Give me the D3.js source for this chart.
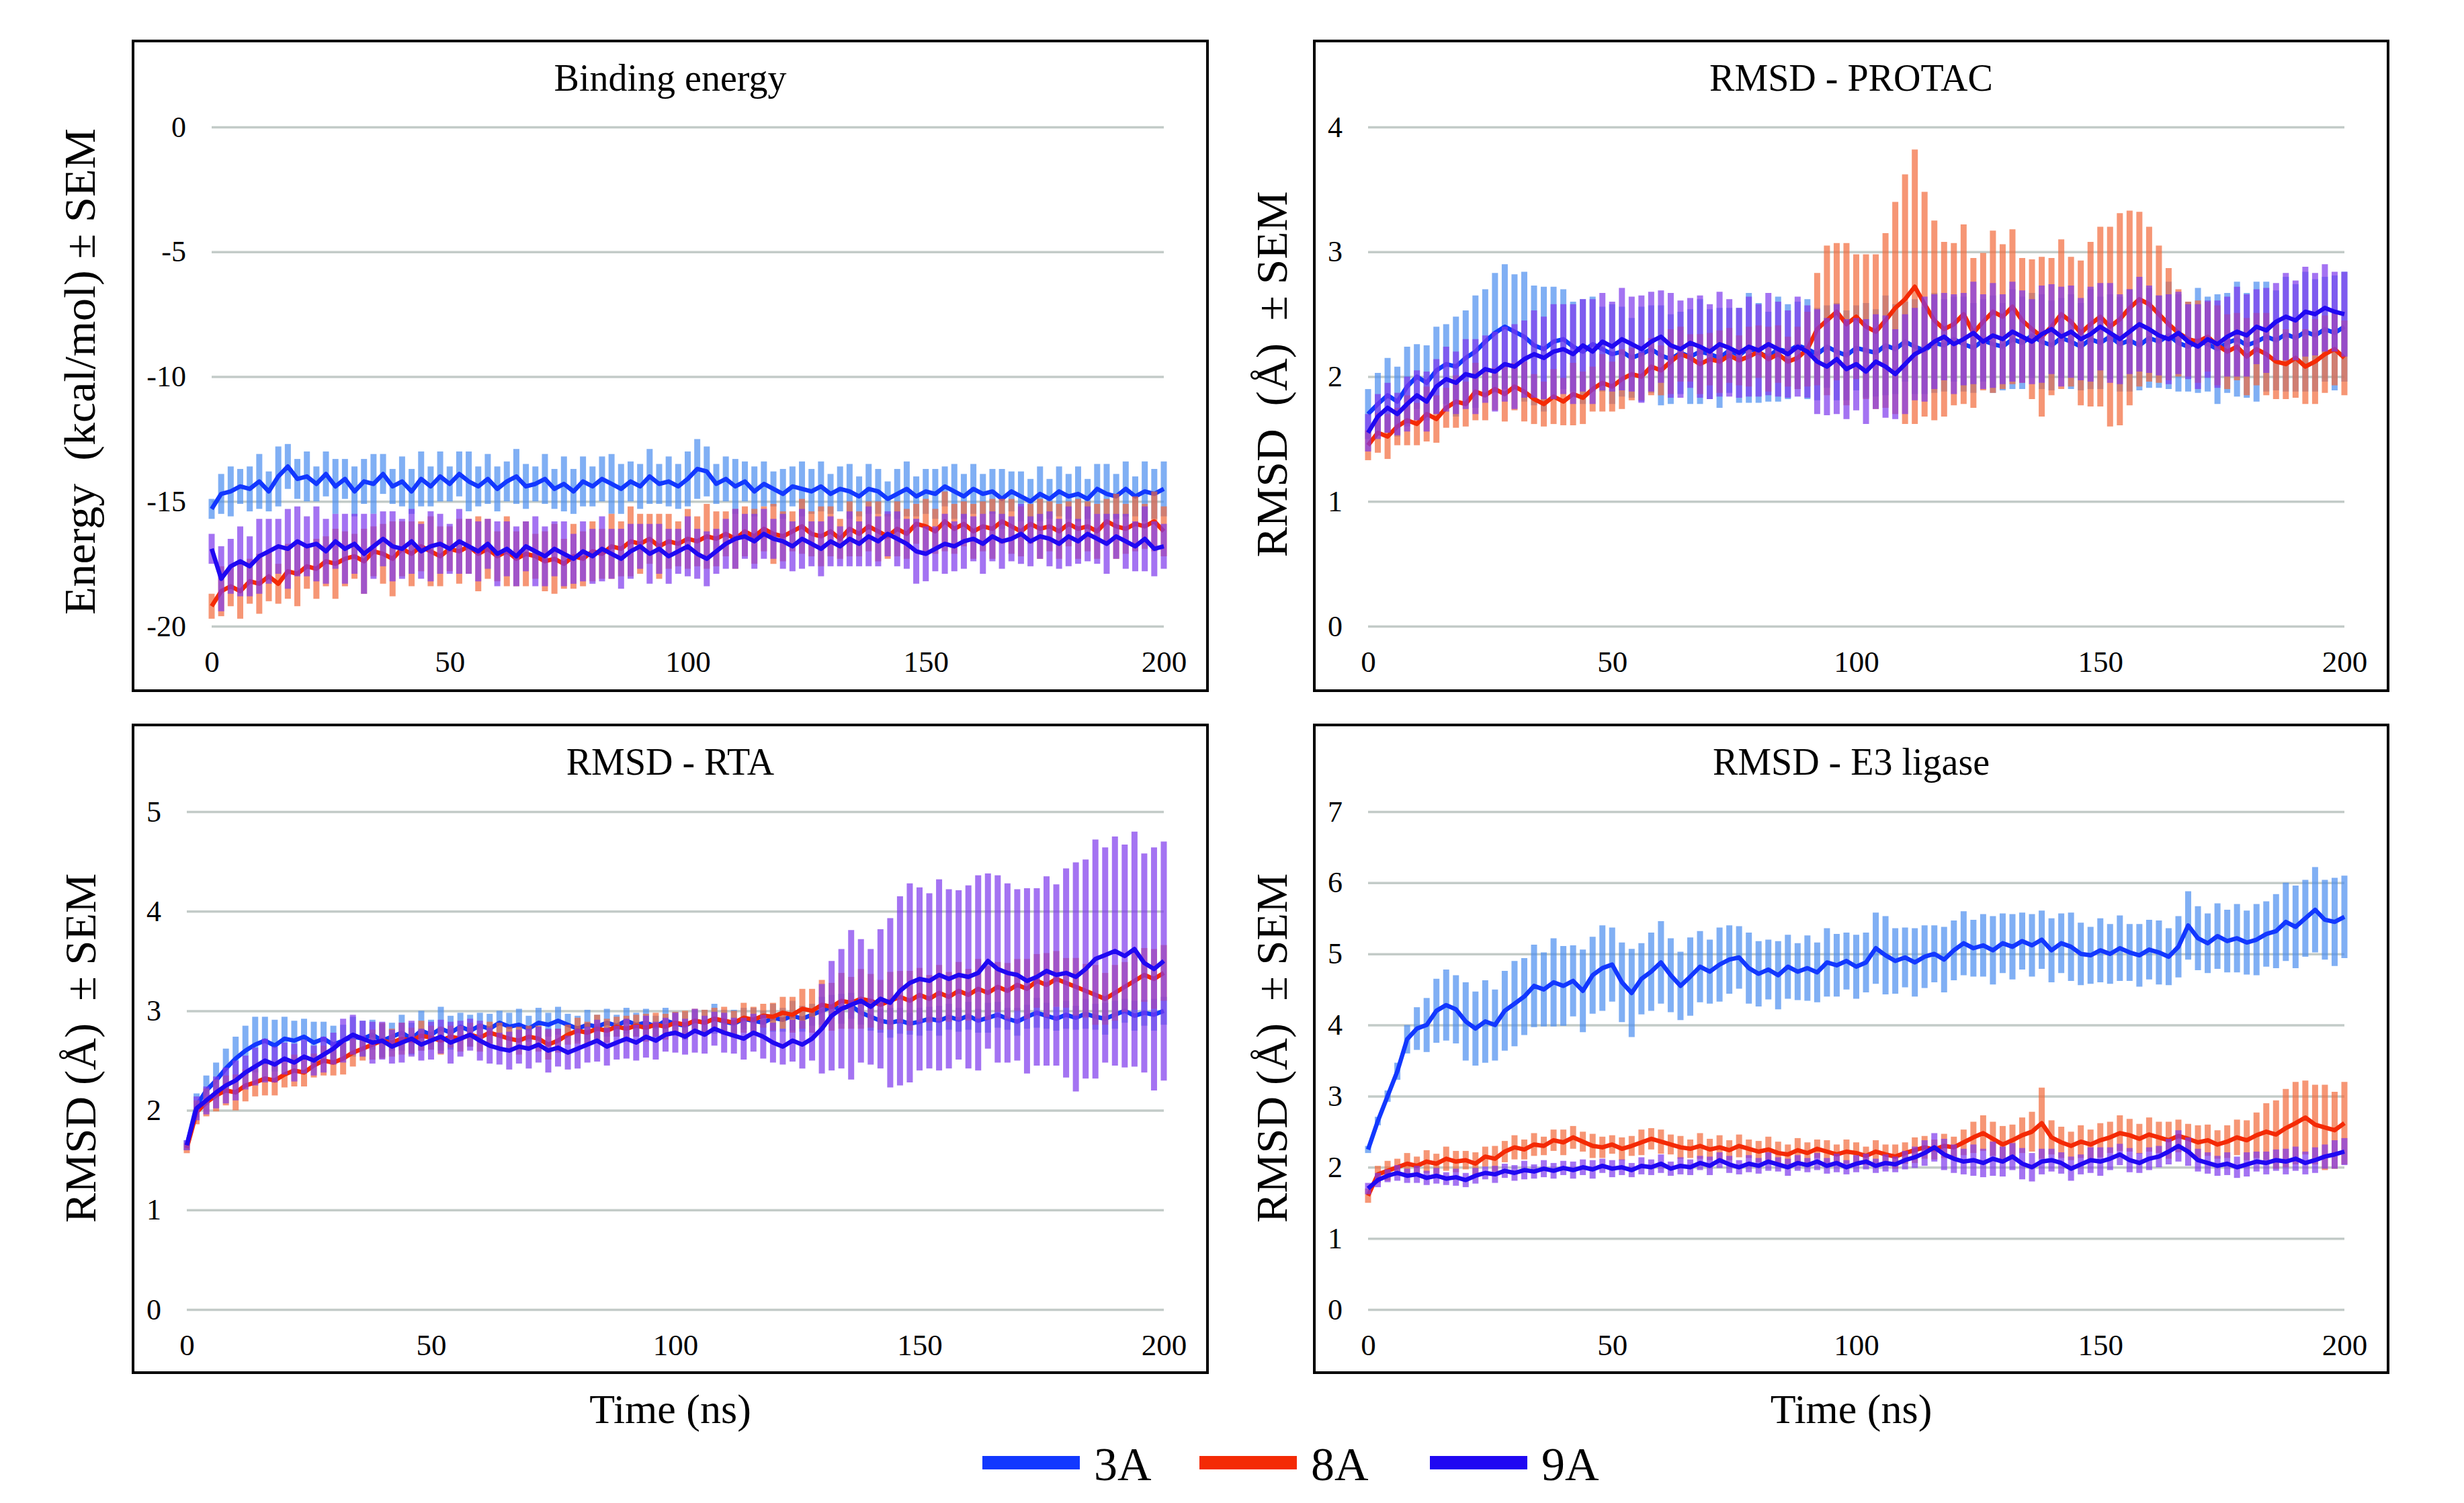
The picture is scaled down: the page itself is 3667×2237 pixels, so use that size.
<!DOCTYPE html>
<html>
<head>
<meta charset="utf-8">
<script src="https://cdn.jsdelivr.net/npm/d3@7"></script>
<style>
  body { margin: 0; background: #fff; }
  text { font-family: "Liberation Serif", "Times New Roman", serif; fill: #000; }
</style>
</head>
<body>
<svg id="chart" width="3667" height="2237"></svg>
<script>
// time axis (ns), one sample every 2 ns
var time = [0,2,4,6,8,10,12,14,16,18,20,22,24,26,28,30,32,34,36,38,40,42,44,46,48,50,52,54,56,58,
  60,62,64,66,68,70,72,74,76,78,80,82,84,86,88,90,92,94,96,98,100,102,104,106,108,110,112,114,116,118,
  120,122,124,126,128,130,132,134,136,138,140,142,144,146,148,150,152,154,156,158,160,162,164,166,168,170,
  172,174,176,178,180,182,184,186,188,190,192,194,196,198,200];

var seriesNames = ["3A", "8A", "9A"];
var xTicks = [0, 50, 100, 150, 200];

// ---- Binding energy (kcal/mol)
var energy3A = [-15.3,-14.7,-14.6,-14.4,-14.5,-14.2,-14.6,-14.0,-13.6,-14.1,
  -14.0,-14.3,-13.9,-14.4,-14.1,-14.6,-14.2,-14.3,-13.9,-14.4,
  -14.2,-14.6,-14.1,-14.4,-14.0,-14.3,-13.9,-14.2,-14.4,-14.1,
  -14.5,-14.2,-14.0,-14.4,-14.3,-14.1,-14.5,-14.3,-14.6,-14.2,
  -14.4,-14.1,-14.3,-14.5,-14.2,-14.4,-14.0,-14.3,-14.2,-14.4,
  -14.1,-13.7,-13.8,-14.3,-14.1,-14.4,-14.2,-14.6,-14.3,-14.5,
  -14.7,-14.4,-14.5,-14.6,-14.4,-14.7,-14.5,-14.6,-14.8,-14.5,
  -14.6,-14.9,-14.7,-14.5,-14.8,-14.6,-14.7,-14.4,-14.6,-14.8,
  -14.5,-14.7,-14.6,-14.9,-14.6,-14.8,-15.0,-14.7,-14.9,-14.6,
  -14.8,-14.7,-14.9,-14.5,-14.7,-14.8,-14.5,-14.8,-14.6,-14.7,
  -14.5];
var energy8A = [-19.2,-18.6,-18.4,-18.6,-18.2,-18.3,-18.0,-18.3,-17.8,-17.9,
  -17.6,-17.7,-17.4,-17.5,-17.3,-17.2,-17.4,-17.0,-17.1,-17.3,
  -16.9,-17.1,-16.8,-17.0,-17.2,-16.9,-17.0,-16.8,-17.1,-16.9,
  -17.2,-17.0,-17.3,-17.1,-17.2,-17.4,-17.3,-17.5,-17.2,-17.3,
  -17.0,-17.1,-16.8,-16.9,-16.6,-16.7,-16.5,-16.8,-16.6,-16.7,
  -16.5,-16.6,-16.4,-16.5,-16.3,-16.5,-16.2,-16.4,-16.1,-16.3,
  -16.4,-16.2,-16.0,-16.3,-16.4,-16.2,-16.5,-16.1,-16.3,-16.0,
  -16.2,-16.4,-16.1,-16.3,-15.9,-16.0,-16.2,-15.8,-16.1,-15.9,
  -16.2,-16.0,-16.1,-15.8,-16.0,-16.2,-15.9,-16.1,-16.0,-16.2,
  -15.9,-16.1,-16.0,-16.2,-15.8,-16.0,-16.1,-15.9,-16.0,-15.8,
  -16.2];
var energy9A = [-16.9,-18.1,-17.6,-17.4,-17.6,-17.2,-17.0,-16.8,-16.9,-16.6,
  -16.8,-16.7,-17.0,-16.6,-16.9,-16.7,-17.1,-16.8,-16.5,-16.8,
  -16.9,-16.6,-17.0,-16.8,-16.7,-16.9,-16.6,-16.8,-17.0,-16.7,
  -17.1,-16.9,-17.2,-16.8,-17.0,-17.2,-16.9,-17.1,-17.3,-17.0,
  -17.2,-16.9,-17.1,-17.3,-17.0,-16.8,-17.1,-16.9,-17.2,-17.0,
  -16.8,-17.1,-17.3,-17.0,-16.7,-16.5,-16.4,-16.6,-16.3,-16.5,
  -16.6,-16.8,-16.5,-16.7,-16.9,-16.6,-16.8,-16.5,-16.7,-16.4,
  -16.6,-16.3,-16.5,-16.7,-17.0,-17.1,-16.9,-16.7,-16.8,-16.6,
  -16.5,-16.7,-16.4,-16.6,-16.5,-16.3,-16.6,-16.4,-16.5,-16.7,
  -16.4,-16.6,-16.3,-16.5,-16.7,-16.4,-16.6,-16.8,-16.5,-16.9,
  -16.8];
var energy3Asem = [0.4,0.8,1.0,0.7,0.9,1.1,0.8,1.2,0.9,0.8,
  1.0,0.7,0.9,1.1,0.8,1.0,0.9,1.2,0.8,0.7,
  1.0,0.9,1.1,0.8,1.0,0.7,0.9,1.2,0.8,1.0,
  0.9,0.8,1.1,0.9,0.7,1.0,0.8,1.1,0.9,1.0,
  0.8,0.9,1.2,1.0,0.8,0.9,1.1,0.8,1.0,0.9,
  1.1,1.2,1.0,0.8,0.9,1.1,0.8,1.0,0.9,0.7,
  1.0,0.8,1.1,0.9,1.0,0.8,0.9,1.1,0.8,1.0,
  0.9,0.7,1.0,1.1,0.8,0.9,1.0,0.8,1.1,0.9,
  1.0,0.8,0.9,1.2,0.8,1.0,0.9,1.1,0.8,1.0,
  0.9,1.1,0.8,1.0,1.2,0.9,1.1,0.8,1.2,1.0,
  1.1];
var energy8Asem = [0.5,1.0,0.8,1.1,0.9,1.2,1.0,0.8,1.1,1.3,
  0.9,1.2,1.0,1.4,1.1,0.9,1.3,1.0,1.2,1.5,
  1.1,1.3,1.0,1.4,1.2,0.9,1.3,1.1,1.5,1.2,
  1.0,1.4,1.1,1.3,0.9,1.2,1.4,1.0,1.3,1.1,
  1.2,1.0,1.3,1.1,1.4,1.2,1.0,1.3,1.1,0.9,
  1.2,1.0,1.3,1.1,0.9,1.2,1.0,1.1,0.9,1.2,
  1.0,0.8,1.1,0.9,1.2,1.0,0.8,1.1,0.9,1.0,
  1.2,0.9,1.1,1.0,0.8,1.1,0.9,1.2,1.0,0.9,
  1.1,1.0,1.2,0.9,1.1,1.0,0.8,1.2,1.0,1.1,
  0.9,1.2,1.0,1.1,0.9,1.3,1.0,1.1,0.9,1.2,
  1.0];
var energy9Asem = [0.6,1.3,1.1,1.4,1.2,1.5,1.3,1.1,1.6,1.4,
  1.2,1.5,1.3,1.1,1.4,1.2,1.6,1.3,1.1,1.4,
  1.2,1.3,1.1,1.4,1.2,1.0,1.3,1.1,1.2,1.0,
  1.3,1.1,1.2,1.0,1.4,1.2,1.1,1.3,1.0,1.2,
  1.1,1.3,1.0,1.2,1.1,0.9,1.2,1.0,1.1,0.9,
  1.2,1.0,1.1,0.9,1.0,1.2,0.9,1.1,1.0,0.8,
  1.1,1.0,1.2,0.9,1.1,1.0,0.8,1.1,0.9,1.2,
  1.0,0.9,1.1,1.0,1.3,1.1,0.9,1.2,1.0,1.1,
  0.9,1.2,1.0,1.1,0.9,1.2,1.0,0.9,1.1,1.0,
  1.2,0.9,1.1,1.0,1.2,0.9,1.1,1.0,1.3,1.1,
  0.9];

// ---- RMSD PROTAC (Å)
var protac3A = [1.70,1.78,1.85,1.80,1.92,2.00,1.95,2.05,2.10,2.08,
  2.15,2.20,2.28,2.35,2.40,2.36,2.32,2.25,2.22,2.28,
  2.30,2.24,2.20,2.26,2.22,2.18,2.20,2.15,2.18,2.22,
  2.17,2.14,2.19,2.16,2.20,2.18,2.15,2.21,2.17,2.23,
  2.19,2.16,2.22,2.20,2.25,2.22,2.18,2.24,2.20,2.17,
  2.23,2.21,2.19,2.25,2.22,2.28,2.24,2.21,2.27,2.25,
  2.30,2.26,2.23,2.29,2.26,2.24,2.30,2.27,2.33,2.28,
  2.25,2.31,2.28,2.24,2.30,2.27,2.32,2.26,2.29,2.25,
  2.31,2.28,2.33,2.27,2.24,2.29,2.26,2.22,2.27,2.30,
  2.25,2.28,2.32,2.29,2.34,2.31,2.36,2.33,2.38,2.35,
  2.40];
var protac8A = [1.45,1.55,1.52,1.60,1.65,1.62,1.70,1.66,1.75,1.80,
  1.78,1.88,1.85,1.90,1.86,1.92,1.88,1.82,1.78,1.84,
  1.80,1.86,1.83,1.90,1.95,1.92,1.98,2.02,2.00,2.08,
  2.05,2.12,2.18,2.15,2.10,2.14,2.12,2.17,2.13,2.16,
  2.20,2.14,2.18,2.12,2.15,2.22,2.38,2.45,2.52,2.42,
  2.48,2.40,2.36,2.45,2.55,2.62,2.72,2.58,2.45,2.38,
  2.42,2.50,2.35,2.44,2.52,2.48,2.56,2.45,2.38,2.32,
  2.40,2.50,2.44,2.35,2.42,2.48,2.40,2.46,2.55,2.62,
  2.58,2.50,2.42,2.35,2.30,2.28,2.32,2.25,2.20,2.24,
  2.16,2.22,2.18,2.12,2.10,2.15,2.08,2.12,2.18,2.22,
  2.15];
var protac9A = [1.55,1.68,1.75,1.70,1.78,1.85,1.80,1.92,1.98,1.95,
  2.02,2.00,2.06,2.04,2.10,2.08,2.14,2.18,2.15,2.20,
  2.22,2.18,2.25,2.20,2.28,2.24,2.30,2.26,2.22,2.28,
  2.32,2.25,2.22,2.27,2.24,2.20,2.26,2.23,2.19,2.24,
  2.21,2.26,2.22,2.18,2.24,2.20,2.12,2.08,2.14,2.06,
  2.10,2.04,2.12,2.08,2.02,2.10,2.18,2.22,2.28,2.32,
  2.26,2.30,2.35,2.28,2.33,2.30,2.36,2.32,2.28,2.34,
  2.38,2.32,2.36,2.30,2.34,2.40,2.35,2.30,2.36,2.42,
  2.38,2.33,2.30,2.35,2.28,2.24,2.30,2.26,2.32,2.36,
  2.33,2.40,2.37,2.44,2.48,2.45,2.52,2.50,2.55,2.52,
  2.50];
var protac3Asem = [0.20,0.25,0.30,0.28,0.32,0.26,0.30,0.35,0.32,0.40,
  0.38,0.45,0.42,0.48,0.50,0.46,0.52,0.48,0.50,0.44,
  0.40,0.36,0.42,0.38,0.34,0.40,0.36,0.32,0.38,0.35,
  0.40,0.36,0.33,0.38,0.42,0.36,0.40,0.34,0.38,0.44,
  0.40,0.36,0.42,0.38,0.35,0.40,0.37,0.33,0.39,0.36,
  0.34,0.38,0.35,0.40,0.36,0.32,0.38,0.35,0.40,0.37,
  0.34,0.38,0.36,0.33,0.39,0.35,0.40,0.37,0.34,0.38,
  0.36,0.32,0.38,0.35,0.40,0.37,0.34,0.38,0.41,0.36,
  0.40,0.37,0.43,0.39,0.36,0.42,0.38,0.44,0.40,0.46,
  0.42,0.48,0.44,0.40,0.46,0.43,0.48,0.45,0.42,0.46,
  0.44];
var protac8Asem = [0.12,0.16,0.18,0.15,0.20,0.17,0.22,0.19,0.16,0.21,
  0.18,0.23,0.20,0.17,0.22,0.19,0.24,0.20,0.18,0.22,
  0.19,0.25,0.21,0.18,0.23,0.20,0.24,0.21,0.19,0.23,
  0.20,0.26,0.22,0.19,0.24,0.21,0.25,0.22,0.20,0.24,
  0.21,0.26,0.23,0.20,0.25,0.30,0.45,0.60,0.55,0.65,
  0.50,0.58,0.62,0.70,0.85,1.00,1.10,0.90,0.80,0.70,
  0.65,0.72,0.60,0.55,0.65,0.58,0.62,0.50,0.56,0.64,
  0.55,0.60,0.52,0.58,0.66,0.72,0.80,0.85,0.78,0.70,
  0.62,0.55,0.45,0.35,0.30,0.33,0.28,0.32,0.30,0.27,
  0.31,0.29,0.33,0.30,0.28,0.32,0.30,0.34,0.31,0.29,
  0.30];
var protac9Asem = [0.15,0.18,0.20,0.17,0.22,0.20,0.24,0.22,0.26,0.25,
  0.28,0.30,0.27,0.32,0.30,0.34,0.31,0.35,0.33,0.38,
  0.36,0.40,0.37,0.42,0.39,0.36,0.41,0.38,0.43,0.40,
  0.37,0.42,0.39,0.36,0.41,0.38,0.42,0.39,0.36,0.40,
  0.37,0.41,0.38,0.35,0.40,0.37,0.42,0.39,0.44,0.40,
  0.37,0.42,0.38,0.41,0.36,0.40,0.37,0.42,0.38,0.35,
  0.40,0.37,0.41,0.38,0.42,0.36,0.40,0.37,0.34,0.39,
  0.36,0.40,0.37,0.33,0.38,0.35,0.40,0.36,0.34,0.38,
  0.35,0.32,0.36,0.33,0.30,0.34,0.31,0.35,0.32,0.36,
  0.33,0.30,0.34,0.31,0.35,0.32,0.36,0.33,0.35,0.32,
  0.34];

// ---- RMSD RTA (Å)
var rta3A = [1.65,2.05,2.20,2.30,2.42,2.52,2.60,2.66,2.70,2.65,
  2.72,2.70,2.74,2.68,2.72,2.66,2.70,2.74,2.72,2.76,
  2.70,2.74,2.78,2.72,2.80,2.76,2.82,2.78,2.84,2.80,
  2.85,2.82,2.88,2.84,2.86,2.82,2.88,2.86,2.90,2.86,
  2.82,2.86,2.84,2.88,2.85,2.90,2.86,2.88,2.84,2.90,
  2.87,2.85,2.90,2.88,2.92,2.89,2.87,2.92,2.90,2.88,
  2.93,2.91,2.95,2.92,2.96,3.00,3.04,3.02,3.05,2.98,
  2.94,2.90,2.88,2.90,2.87,2.89,2.92,2.90,2.94,2.91,
  2.95,2.90,2.93,2.96,2.92,2.89,2.94,2.98,2.95,2.92,
  2.96,2.93,2.97,2.94,2.92,2.96,3.00,2.95,2.98,2.96,
  3.00];
var rta8A = [1.62,1.98,2.08,2.15,2.20,2.18,2.25,2.28,2.32,2.30,
  2.36,2.40,2.38,2.45,2.50,2.48,2.52,2.58,2.62,2.66,
  2.70,2.68,2.72,2.70,2.75,2.73,2.70,2.74,2.72,2.76,
  2.73,2.78,2.75,2.72,2.70,2.74,2.72,2.66,2.70,2.76,
  2.80,2.78,2.82,2.80,2.84,2.82,2.85,2.83,2.86,2.84,
  2.88,2.86,2.90,2.88,2.92,2.90,2.88,2.93,2.91,2.95,
  2.94,2.98,2.96,3.02,3.00,3.06,3.04,3.10,3.08,3.12,
  3.10,3.06,3.10,3.14,3.10,3.16,3.12,3.18,3.14,3.20,
  3.16,3.22,3.18,3.24,3.20,3.26,3.22,3.30,3.26,3.32,
  3.28,3.24,3.20,3.16,3.12,3.18,3.24,3.30,3.36,3.32,
  3.38];
var rta9A = [1.65,2.02,2.10,2.18,2.25,2.30,2.38,2.44,2.50,2.46,
  2.52,2.48,2.54,2.50,2.56,2.62,2.70,2.76,2.72,2.68,
  2.70,2.64,2.68,2.72,2.66,2.70,2.74,2.68,2.72,2.76,
  2.70,2.65,2.62,2.60,2.64,2.62,2.66,2.60,2.63,2.58,
  2.62,2.66,2.70,2.64,2.68,2.72,2.68,2.74,2.70,2.76,
  2.78,2.74,2.80,2.76,2.82,2.78,2.75,2.72,2.78,2.74,
  2.68,2.64,2.70,2.66,2.72,2.82,2.95,3.02,3.06,3.10,
  3.04,3.12,3.08,3.20,3.28,3.32,3.30,3.36,3.32,3.36,
  3.34,3.38,3.50,3.42,3.38,3.36,3.30,3.34,3.40,3.36,
  3.38,3.34,3.42,3.52,3.56,3.60,3.55,3.62,3.48,3.42,
  3.50];
var rta3Asem = [0.05,0.12,0.15,0.18,0.20,0.22,0.25,0.28,0.24,0.26,
  0.22,0.20,0.18,0.21,0.17,0.19,0.16,0.20,0.18,0.15,
  0.17,0.14,0.18,0.16,0.20,0.15,0.22,0.17,0.14,0.16,
  0.13,0.15,0.12,0.14,0.16,0.13,0.15,0.12,0.14,0.11,
  0.13,0.15,0.12,0.14,0.11,0.13,0.12,0.14,0.11,0.13,
  0.12,0.14,0.11,0.13,0.15,0.12,0.14,0.11,0.13,0.12,
  0.14,0.12,0.15,0.13,0.11,0.14,0.12,0.15,0.13,0.12,
  0.14,0.12,0.15,0.13,0.11,0.14,0.12,0.15,0.13,0.12,
  0.14,0.12,0.15,0.13,0.11,0.14,0.12,0.15,0.13,0.12,
  0.14,0.12,0.15,0.13,0.16,0.14,0.12,0.15,0.13,0.16,
  0.14];
var rta8Asem = [0.05,0.12,0.14,0.16,0.15,0.18,0.16,0.14,0.17,0.15,
  0.13,0.16,0.14,0.12,0.15,0.13,0.16,0.14,0.12,0.15,
  0.18,0.14,0.16,0.13,0.15,0.12,0.14,0.11,0.13,0.12,
  0.14,0.11,0.13,0.12,0.14,0.11,0.13,0.15,0.12,0.10,
  0.13,0.11,0.14,0.12,0.10,0.13,0.11,0.14,0.12,0.13,
  0.11,0.14,0.12,0.13,0.11,0.14,0.12,0.15,0.13,0.12,
  0.14,0.16,0.18,0.20,0.22,0.25,0.24,0.28,0.26,0.30,
  0.27,0.25,0.29,0.26,0.30,0.27,0.24,0.28,0.25,0.29,
  0.26,0.30,0.27,0.25,0.28,0.26,0.30,0.27,0.32,0.28,
  0.25,0.29,0.27,0.30,0.26,0.28,0.25,0.29,0.27,0.30,
  0.28];
var rta9Asem = [0.05,0.12,0.14,0.16,0.18,0.20,0.17,0.19,0.22,0.18,
  0.16,0.19,0.17,0.15,0.18,0.16,0.22,0.20,0.18,0.21,
  0.19,0.17,0.20,0.18,0.16,0.19,0.17,0.21,0.18,0.16,
  0.20,0.18,0.16,0.19,0.17,0.20,0.18,0.22,0.19,0.17,
  0.20,0.18,0.21,0.19,0.17,0.20,0.18,0.21,0.19,0.17,
  0.20,0.18,0.22,0.19,0.17,0.20,0.18,0.21,0.19,0.22,
  0.20,0.18,0.21,0.24,0.22,0.45,0.55,0.60,0.75,0.62,
  0.58,0.70,0.85,0.95,1.00,0.92,0.88,0.96,0.90,0.85,
  0.92,0.98,0.88,0.94,0.90,0.86,0.93,0.89,0.95,0.91,
  1.05,1.15,1.10,1.20,1.08,1.15,1.12,1.18,1.10,1.22,
  1.20];

// ---- RMSD E3 ligase (Å)
var ligase3A = [2.25,2.65,3.00,3.35,3.80,3.95,4.00,4.20,4.28,4.22,
  4.05,3.95,4.05,4.00,4.20,4.30,4.40,4.55,4.50,4.60,
  4.55,4.62,4.48,4.70,4.80,4.85,4.60,4.45,4.65,4.75,
  4.88,4.70,4.55,4.68,4.82,4.75,4.85,4.92,4.95,4.80,
  4.72,4.78,4.70,4.82,4.75,4.80,4.74,4.88,4.84,4.90,
  4.82,4.88,5.08,4.98,4.90,4.95,4.88,4.96,5.00,4.92,
  5.05,5.15,5.08,5.12,5.05,5.15,5.10,5.18,5.12,5.20,
  5.05,5.15,5.10,5.00,4.98,5.05,5.00,5.08,5.02,4.98,
  5.06,5.02,4.96,5.10,5.40,5.22,5.15,5.25,5.18,5.22,
  5.16,5.20,5.28,5.32,5.45,5.38,5.50,5.62,5.48,5.45,
  5.52];
var ligase8A = [1.60,1.90,1.95,2.00,2.05,2.02,2.08,2.05,2.12,2.08,
  2.10,2.05,2.15,2.12,2.22,2.28,2.25,2.32,2.30,2.38,
  2.35,2.42,2.36,2.30,2.28,2.32,2.26,2.30,2.35,2.40,
  2.36,2.32,2.28,2.26,2.30,2.25,2.28,2.24,2.30,2.26,
  2.22,2.25,2.20,2.18,2.24,2.20,2.26,2.22,2.18,2.22,
  2.20,2.16,2.22,2.18,2.15,2.20,2.24,2.28,2.25,2.30,
  2.28,2.35,2.42,2.48,2.40,2.32,2.38,2.45,2.50,2.62,
  2.42,2.35,2.30,2.36,2.32,2.38,2.42,2.48,2.45,2.40,
  2.46,2.42,2.38,2.44,2.40,2.35,2.38,2.32,2.36,2.42,
  2.38,2.45,2.50,2.46,2.55,2.62,2.70,2.60,2.56,2.52,
  2.62];
var ligase9A = [1.70,1.82,1.88,1.92,1.88,1.90,1.85,1.88,1.84,1.86,
  1.82,1.88,1.92,1.90,1.95,1.92,1.96,1.94,1.98,1.95,
  1.99,1.96,2.00,1.97,2.02,1.98,2.00,1.96,2.02,2.00,
  2.05,1.98,2.02,2.00,2.06,2.02,2.10,2.04,2.00,2.05,
  2.02,2.08,2.04,2.00,2.06,2.03,2.08,2.02,2.06,2.00,
  2.05,2.08,2.02,2.06,2.04,2.10,2.14,2.20,2.28,2.18,
  2.12,2.08,2.10,2.06,2.12,2.08,2.15,2.05,2.00,2.08,
  2.10,2.06,1.98,2.04,2.10,2.08,2.12,2.18,2.10,2.06,
  2.12,2.15,2.22,2.30,2.22,2.10,2.06,2.02,2.05,2.00,
  2.04,2.08,2.06,2.10,2.08,2.12,2.06,2.10,2.15,2.18,
  2.22];
var ligase3Asem = [0.05,0.06,0.08,0.12,0.20,0.30,0.38,0.45,0.50,0.48,
  0.55,0.52,0.58,0.50,0.56,0.60,0.54,0.58,0.52,0.62,
  0.56,0.50,0.58,0.54,0.60,0.52,0.56,0.62,0.50,0.55,
  0.58,0.52,0.48,0.55,0.50,0.45,0.52,0.48,0.44,0.50,
  0.46,0.42,0.48,0.45,0.40,0.46,0.42,0.48,0.44,0.40,
  0.45,0.42,0.50,0.55,0.46,0.42,0.48,0.44,0.40,0.46,
  0.42,0.45,0.40,0.44,0.48,0.42,0.46,0.40,0.44,0.41,
  0.45,0.42,0.48,0.44,0.40,0.45,0.42,0.46,0.40,0.44,
  0.42,0.45,0.40,0.43,0.48,0.45,0.42,0.46,0.44,0.48,
  0.45,0.50,0.46,0.52,0.55,0.58,0.54,0.60,0.56,0.62,
  0.58];
var ligase8Asem = [0.10,0.12,0.14,0.12,0.15,0.13,0.16,0.14,0.17,0.15,
  0.13,0.16,0.14,0.18,0.15,0.17,0.14,0.16,0.13,0.15,
  0.18,0.16,0.14,0.17,0.15,0.13,0.16,0.14,0.18,0.15,
  0.17,0.14,0.16,0.13,0.18,0.15,0.17,0.14,0.16,0.13,
  0.15,0.18,0.16,0.14,0.17,0.15,0.13,0.16,0.14,0.17,
  0.15,0.13,0.16,0.14,0.17,0.15,0.18,0.16,0.14,0.17,
  0.15,0.18,0.22,0.25,0.24,0.26,0.22,0.25,0.28,0.50,
  0.24,0.22,0.20,0.23,0.21,0.24,0.22,0.25,0.23,0.21,
  0.24,0.22,0.26,0.23,0.21,0.24,0.22,0.20,0.23,0.25,
  0.28,0.32,0.40,0.48,0.55,0.58,0.52,0.56,0.60,0.54,
  0.58];
var ligase9Asem = [0.08,0.10,0.09,0.11,0.10,0.12,0.10,0.11,0.09,0.12,
  0.10,0.11,0.09,0.12,0.10,0.11,0.13,0.10,0.12,0.11,
  0.10,0.12,0.11,0.13,0.10,0.12,0.11,0.10,0.12,0.11,
  0.13,0.10,0.12,0.11,0.10,0.13,0.11,0.12,0.10,0.12,
  0.11,0.13,0.10,0.12,0.11,0.10,0.12,0.11,0.13,0.10,
  0.12,0.11,0.10,0.12,0.11,0.13,0.15,0.18,0.20,0.22,
  0.20,0.18,0.22,0.20,0.24,0.21,0.19,0.22,0.20,0.18,
  0.16,0.15,0.17,0.14,0.18,0.20,0.16,0.15,0.17,0.14,
  0.16,0.15,0.18,0.22,0.20,0.16,0.15,0.14,0.16,0.15,
  0.17,0.14,0.16,0.15,0.18,0.17,0.16,0.18,0.17,0.20,
  0.19];

// colours per series (3A, 8A, 9A)
var lineColor = ["#1238FF", "#F42A05", "#2008F2"];
var barColor = ["#4A8DF0", "#F26A3A", "#7E38EC"];

var panels = [
  { title: "Binding energy", ylab: "Energy  (kcal/mol) \u00B1 SEM", dom: [-20, 0], ticks: [0, -5, -10, -15, -20],
    mean: [energy3A, energy8A, energy9A], sem: [energy3Asem, energy8Asem, energy9Asem],
    box: [198, 61, 1797, 1028], px: [315, 1732], py: [932, 189], labX: 141, labLen: 724, labY: 553, xtitle: false },
  { title: "RMSD - PROTAC", ylab: "RMSD  (\u00C5)  \u00B1 SEM", dom: [0, 4], ticks: [0, 1, 2, 3, 4],
    mean: [protac3A, protac8A, protac9A], sem: [protac3Asem, protac8Asem, protac9Asem],
    box: [1956, 61, 3554, 1028], px: [2036, 3489], py: [932, 189], labX: 1915, labLen: 545, labY: 557, xtitle: false },
  { title: "RMSD - RTA", ylab: "RMSD (\u00C5)  \u00B1 SEM", dom: [0, 5], ticks: [0, 1, 2, 3, 4, 5],
    mean: [rta3A, rta8A, rta9A], sem: [rta3Asem, rta8Asem, rta9Asem],
    box: [198, 1079, 1797, 2043], px: [278, 1732], py: [1949, 1208], labX: 142, labLen: 520, labY: 1560, xtitle: true },
  { title: "RMSD - E3 ligase", ylab: "RMSD (\u00C5)  \u00B1 SEM", dom: [0, 7], ticks: [0, 1, 2, 3, 4, 5, 6, 7],
    mean: [ligase3A, ligase8A, ligase9A], sem: [ligase3Asem, ligase8Asem, ligase9Asem],
    box: [1956, 1079, 3554, 2043], px: [2036, 3489], py: [1949, 1208], labX: 1915, labLen: 520, labY: 1560, xtitle: true }
];

var svg = d3.select("#chart");
svg.append("rect").attr("width", 3667).attr("height", 2237).attr("fill", "#fff");

panels.forEach(function (p) {
  var g = svg.append("g");
  var x = d3.scaleLinear().domain([0, 200]).range(p.px);
  var y = d3.scaleLinear().domain(p.dom).range(p.py);

  // frame
  g.append("rect")
    .attr("x", p.box[0]).attr("y", p.box[1])
    .attr("width", p.box[2] - p.box[0]).attr("height", p.box[3] - p.box[1])
    .attr("fill", "none").attr("stroke", "#000").attr("stroke-width", 4);

  // y axis + gridlines
  var ya = g.append("g")
    .attr("transform", "translate(" + p.px[0] + ",0)")
    .call(d3.axisLeft(y).tickValues(p.ticks)
      .tickFormat(function (d) { return d; })
      .tickSize(-(p.px[1] - p.px[0])).tickPadding(38));
  ya.select(".domain").remove();
  ya.selectAll(".tick line").attr("stroke", "#C3CBC8").attr("stroke-width", 3.5);
  ya.selectAll(".tick text")
    .attr("font-size", 44).attr("fill", "#000")
    .style("font-family", "'Liberation Serif', serif");

  // x axis labels only
  var xa = g.append("g")
    .attr("transform", "translate(0," + p.py[0] + ")")
    .call(d3.axisBottom(x).tickValues(xTicks)
      .tickFormat(function (d) { return d; })
      .tickSize(0).tickPadding(36));
  xa.select(".domain").remove();
  xa.selectAll(".tick text")
    .attr("font-size", 45).attr("fill", "#000")
    .style("font-family", "'Liberation Serif', serif");

  // series: error bars then mean line
  seriesNames.forEach(function (name, k) {
    var m = p.mean[k], s = p.sem[k];
    var sg = g.append("g").attr("class", "series-" + name);
    sg.selectAll("line.err")
      .data(time)
      .enter().append("line")
      .attr("class", "err")
      .attr("x1", function (t) { return x(t); })
      .attr("x2", function (t) { return x(t); })
      .attr("y1", function (t, i) { return y(m[i] - s[i]); })
      .attr("y2", function (t, i) { return y(m[i] + s[i]); })
      .attr("stroke", barColor[k])
      .attr("stroke-opacity", 0.7)
      .attr("stroke-width", 9);

    var line = d3.line()
      .x(function (t) { return x(t); })
      .y(function (t, i) { return y(m[i]); });
    sg.append("path")
      .datum(time)
      .attr("d", line)
      .attr("fill", "none")
      .attr("stroke", lineColor[k])
      .attr("stroke-width", 6.5)
      .attr("stroke-linejoin", "round");
  });

  // title
  g.append("text")
    .attr("x", (p.box[0] + p.box[2]) / 2)
    .attr("y", p.box[1] + 74)
    .attr("text-anchor", "middle")
    .attr("font-size", 56)
    .text(p.title);

  // y label
  g.append("text")
    .attr("transform", "translate(" + p.labX + "," + p.labY + ") rotate(-90)")
    .attr("text-anchor", "middle")
    .attr("font-size", 66)
    .attr("textLength", p.labLen)
    .attr("lengthAdjust", "spacingAndGlyphs")
    .style("white-space", "pre")
    .text(p.ylab);

  if (p.xtitle) {
    g.append("text")
      .attr("x", (p.box[0] + p.box[2]) / 2)
      .attr("y", 2118)
      .attr("text-anchor", "middle")
      .attr("font-size", 62)
      .text("Time (ns)");
  }
});

// legend
var legX = [1462, 1785, 2128];
var leg = svg.append("g");
seriesNames.forEach(function (name, k) {
  leg.append("rect")
    .attr("x", legX[k]).attr("y", 2167)
    .attr("width", 145).attr("height", 20)
    .attr("fill", lineColor[k]);
  leg.append("text")
    .attr("x", legX[k] + 166).attr("y", 2203)
    .attr("font-size", 70)
    .text(name);
});
</script>
</body>
</html>
